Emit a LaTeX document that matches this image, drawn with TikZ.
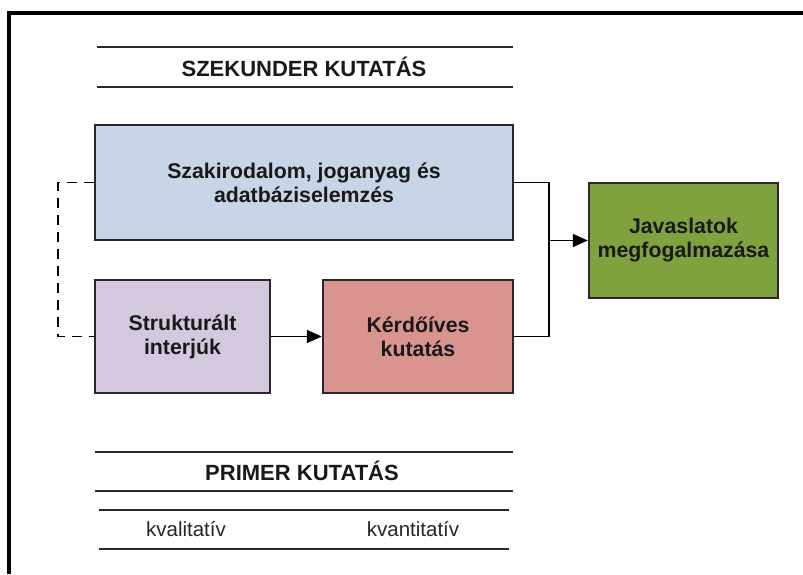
\documentclass[tikz,border=0pt]{standalone}
\usepackage{fontspec}
\setmainfont{Liberation Sans}
\usetikzlibrary{arrows.meta, positioning, calc}
\definecolor{cBlue}{RGB}{199,213,230}
\definecolor{cLilac}{RGB}{212,200,222}
\definecolor{cRose}{RGB}{218,148,144}
\definecolor{cOlive}{RGB}{128,162,62}
\definecolor{cRule}{RGB}{40,40,40}
\tikzset{
	blk/.style   ={rectangle, draw=cRule, line width=2.4pt, inner sep=0pt, align=center, text=black!90, font=\fontsize{21.3}{24}\selectfont\bfseries},
	head/.style  ={inner sep=0pt, text=black!90, font=\fontsize{22}{26}\selectfont\bfseries},
	sub/.style   ={inner sep=0pt, text=black!85, font=\fontsize{20.5}{24}\selectfont},
	rule/.style  ={cRule, line width=2.4pt},
	sig/.style   ={-{Triangle[length=15pt,width=13pt]}, line width=1.8pt},
	link/.style  ={line width=1.8pt},
	dlink/.style ={dashed, dash pattern=on 10pt off 7pt, line width=1.8pt},
}
\begin{document}
\begin{tikzpicture}[x=1pt, y=1pt]
	\useasboundingbox (0,0) rectangle (803,574);
	% frame
	\draw[line width=3.5pt] (803,561) -- (9,561) -- (9,0);
	% secondary research heading
	\draw[rule] (97,527) -- (513,527);
	\draw[rule] (97,487) -- (513,487);
	\node[head] (szek) at (304,507) {SZEKUNDER KUTATÁS};
	% boxes
	\node[blk, fill=cBlue, minimum width=418, minimum height=115] (irod) at (304,391.5) {Szakirodalom, joganyag és\\adatbáziselemzés};
	\node[blk, fill=cLilac, minimum width=175, minimum height=113] (interju) at (182.5,237.5) {Strukturált\\interjúk};
	\node[blk, fill=cRose, minimum width=190, minimum height=113] (kerd) at (418,237.5) {Kérdőíves\\kutatás};
	\node[blk, fill=cOlive, minimum width=189, minimum height=115] (javas) at (683.5,333.5) {Javaslatok\\megfogalmazása};
	% connectors
	\coordinate (jn) at (549,333.5);
	\coordinate (dl) at (58,333.5);
	\draw[link] (irod.east) -| (jn) |- (kerd.east);
	\draw[sig] (jn) -- (javas.west);
	\draw[sig] (interju.east) -- (kerd.west);
	\draw[dlink] (irod.west) -| (dl) |- (interju.west);
	% primary research heading
	\draw[rule] (95,122) -- (513,122);
	\draw[rule] (95,83) -- (513,83);
	\node[head] (prim) at (302,103) {PRIMER KUTATÁS};
	\draw[rule] (99,64) -- (509,64);
	\draw[rule] (99,25) -- (509,25);
	\node[sub] (kval) at (186,45) {kvalitatív};
	\node[sub] (kvan) at (413,45) {kvantitatív};
\end{tikzpicture}
\end{document}
